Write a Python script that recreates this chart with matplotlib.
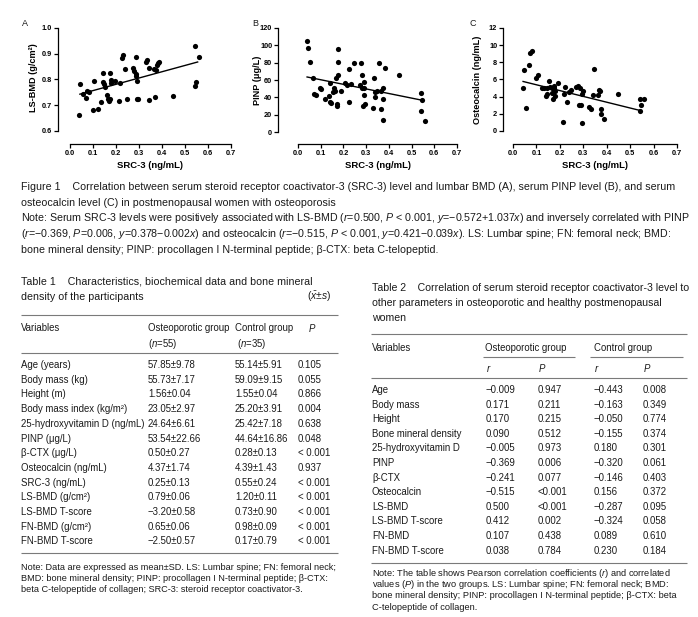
import matplotlib
matplotlib.use("Agg")
import matplotlib.pyplot as plt
from matplotlib.ticker import FormatStrFormatter

plt.rcParams["font.family"] = ["Liberation Sans", "DejaVu Sans"]
plt.rcParams["mathtext.fontset"] = "custom"
plt.rcParams["mathtext.rm"] = "Liberation Sans"
plt.rcParams["mathtext.it"] = "Liberation Sans:italic"
plt.rcParams["mathtext.bf"] = "Liberation Sans:bold"

# ---- scatter data ----
src3_a = [0.043, 0.041, 0.058, 0.070, 0.075, 0.081, 0.104, 0.099, 0.123, 0.135, 0.142, 0.145, 0.146,
          0.154, 0.159, 0.167, 0.171, 0.174, 0.178, 0.177, 0.196, 0.174, 0.213, 0.217, 0.225, 0.232,
          0.239, 0.249, 0.275, 0.280, 0.286, 0.288, 0.287, 0.293, 0.293, 0.297, 0.329, 0.336, 0.343,
          0.343, 0.365, 0.370, 0.377, 0.383, 0.376, 0.389, 0.446, 0.543, 0.546, 0.545, 0.559]
ls_bmd = [0.782, 0.661, 0.743, 0.730, 0.757, 0.753, 0.795, 0.681, 0.684, 0.713, 0.827, 0.792, 0.782,
          0.769, 0.740, 0.723, 0.718, 0.825, 0.799, 0.788, 0.795, 0.726, 0.717, 0.786, 0.884, 0.897,
          0.840, 0.725, 0.844, 0.832, 0.822, 0.886, 0.812, 0.795, 0.725, 0.725, 0.869, 0.877, 0.845,
          0.721, 0.842, 0.732, 0.857, 0.864, 0.835, 0.869, 0.735, 0.931, 0.790, 0.775, 0.887]
fit_a_x = [0.043, 0.555]
fit_a_y = [0.743, 0.868]

src3_b = [0.038, 0.044, 0.051, 0.066, 0.069, 0.078, 0.098, 0.103, 0.120, 0.135, 0.139, 0.142, 0.144,
          0.154, 0.158, 0.164, 0.169, 0.172, 0.172, 0.175, 0.175, 0.175, 0.191, 0.208, 0.216, 0.223,
          0.226, 0.233, 0.248, 0.272, 0.279, 0.282, 0.283, 0.289, 0.292, 0.286, 0.292, 0.296, 0.330,
          0.333, 0.338, 0.339, 0.348, 0.358, 0.365, 0.367, 0.374, 0.376, 0.376, 0.385, 0.446, 0.542,
          0.546, 0.542, 0.558]
pinp = [104.6, 96.5, 80.4, 61.9, 44.2, 43.1, 50.8, 49.2, 38.5, 41.9, 56.9, 34.6, 33.5,
        46.2, 50.8, 46.9, 62.7, 32.3, 30.4, 66.2, 80.4, 95.4, 46.9, 56.5, 54.6, 34.2,
        72.7, 55.4, 80.0, 54.6, 79.6, 50.8, 65.4, 50.8, 57.3, 30.4, 43.1, 32.7, 27.7,
        61.9, 46.5, 40.8, 46.9, 79.2, 46.9, 26.2, 50.4, 38.1, 13.5, 73.8, 65.4, 44.6,
        37.3, 24.2, 13.1]
fit_b_x = [0.040, 0.550]
fit_b_y = [63.5, 36.5]

src3_c = [0.043, 0.047, 0.057, 0.069, 0.074, 0.083, 0.100, 0.106, 0.123, 0.134, 0.140, 0.146, 0.144,
          0.154, 0.160, 0.166, 0.166, 0.171, 0.174, 0.177, 0.179, 0.181, 0.194, 0.214, 0.219, 0.224,
          0.230, 0.239, 0.249, 0.271, 0.277, 0.286, 0.283, 0.291, 0.293, 0.296, 0.299, 0.326, 0.333,
          0.340, 0.346, 0.361, 0.366, 0.371, 0.377, 0.377, 0.389, 0.450, 0.544, 0.547, 0.544, 0.559]
osteocalcin = [4.99, 7.05, 2.67, 7.70, 9.10, 9.29, 6.23, 6.47, 4.96, 4.99, 4.07, 4.26, 5.03,
               5.77, 5.15, 4.96, 4.41, 3.72, 5.30, 4.96, 4.07, 4.65, 5.65, 1.01, 4.26, 5.11,
               3.33, 4.53, 4.72, 5.07, 5.30, 4.96, 3.06, 3.06, 0.97, 4.34, 4.61, 2.79, 2.52,
               4.14, 7.28, 4.18, 4.72, 4.68, 2.59, 1.94, 1.35, 4.30, 3.72, 3.06, 2.36, 3.68]
fit_c_x = [0.043, 0.547]
fit_c_y = [5.77, 2.36]

x_ticks = [0.0, 0.1, 0.2, 0.3, 0.4, 0.5, 0.6, 0.7]
y_ticks_a = [0.6, 0.7, 0.8, 0.9, 1.0]
y_ticks_b = [0, 20, 40, 60, 80, 100, 120]
y_ticks_c = [0, 2, 4, 6, 8, 10, 12]

# ---- captions ----
fig_caption = [
    "Figure 1    Correlation between serum steroid receptor coactivator-3 (SRC-3) level and lumbar BMD (A), serum PINP level (B), and serum",
    "osteocalcin level (C) in postmenopausal women with osteoporosis",
    "Note: Serum SRC-3 levels were positively associated with LS-BMD ($r$=0.500, $P$ < 0.001, $y$=\u22120.572+1.037$x$) and inversely correlated with PINP",
    "($r$=\u22120.369, $P$=0.006, $y$=0.378\u22120.002$x$) and osteocalcin ($r$=\u22120.515, $P$ < 0.001, $y$=0.421\u22120.039$x$). LS: Lumbar spine; FN: femoral neck; BMD:",
    "bone mineral density; PINP: procollagen I N-terminal peptide; \u03b2-CTX: beta C-telopeptid.",
]

# ---- table 1 ----
t1_title = ["Table 1    Characteristics, biochemical data and bone mineral",
            "density of the participants"]
t1_variables = ["Age (years)", "Body mass (kg)", "Height (m)", "Body mass index (kg/m\u00b2)",
                "25-hydroxyvitamin D (ng/mL)", "PINP (\u03bcg/L)", "\u03b2-CTX (\u03bcg/L)",
                "Osteocalcin (ng/mL)", "SRC-3 (ng/mL)", "LS-BMD (g/cm\u00b2)", "LS-BMD T-score",
                "FN-BMD (g/cm\u00b2)", "FN-BMD T-score"]
t1_osteo = ["57.85\u00b19.78", "55.73\u00b17.17", "1.56\u00b10.04", "23.05\u00b12.97", "24.64\u00b16.61",
            "53.54\u00b122.66", "0.50\u00b10.27", "4.37\u00b11.74", "0.25\u00b10.13", "0.79\u00b10.06",
            "\u22123.20\u00b10.58", "0.65\u00b10.06", "\u22122.50\u00b10.57"]
t1_control = ["55.14\u00b15.91", "59.09\u00b19.15", "1.55\u00b10.04", "25.20\u00b13.91", "25.42\u00b17.18",
              "44.64\u00b116.86", "0.28\u00b10.13", "4.39\u00b11.43", "0.55\u00b10.24", "1.20\u00b10.11",
              "0.73\u00b10.90", "0.98\u00b10.09", "0.17\u00b10.79"]
t1_p = ["0.105", "0.055", "0.866", "0.004", "0.638", "0.048", "< 0.001", "0.937", "< 0.001",
        "< 0.001", "< 0.001", "< 0.001", "< 0.001"]
t1_note = ["Note: Data are expressed as mean\u00b1SD. LS: Lumbar spine; FN: femoral neck;",
           "BMD: bone mineral density; PINP: procollagen I N-terminal peptide; \u03b2-CTX:",
           "beta C-telopeptide of collagen; SRC-3: steroid receptor coactivator-3."]

# ---- table 2 ----
t2_title = ["Table 2    Correlation of serum steroid receptor coactivator-3 level to",
            "other parameters in osteoporotic and healthy postmenopausal",
            "women"]
t2_variables = ["Age", "Body mass", "Height", "Bone mineral density", "25-hydroxyvitamin D", "PINP",
                "\u03b2-CTX", "Osteocalcin", "LS-BMD", "LS-BMD T-score", "FN-BMD", "FN-BMD T-score"]
t2_osteo_r = ["\u22120.009", "0.171", "0.170", "0.090", "\u22120.005", "\u22120.369", "\u22120.241",
              "\u22120.515", "0.500", "0.412", "0.107", "0.038"]
t2_osteo_p = ["0.947", "0.211", "0.215", "0.512", "0.973", "0.006", "0.077", "<0.001", "<0.001",
              "0.002", "0.438", "0.784"]
t2_control_r = ["\u22120.443", "\u22120.163", "\u22120.050", "\u22120.155", "0.180", "\u22120.320",
                "\u22120.146", "0.156", "\u22120.287", "\u22120.324", "0.089", "0.230"]
t2_control_p = ["0.008", "0.349", "0.774", "0.374", "0.301", "0.061", "0.403", "0.372", "0.095",
                "0.058", "0.610", "0.184"]
t2_note = ["Note: The table shows Pearson correlation coefficients ($r$) and correlated",
           "values ($P$) in the two groups. LS: Lumbar spine; FN: femoral neck; BMD:",
           "bone mineral density; PINP: procollagen I N-terminal peptide; \u03b2-CTX: beta",
           "C-telopeptide of collagen."]

W, H = 698, 617
TEXT = "#1a1a1a"
RULE = "#7a7a7a"
fig = plt.figure(figsize=(W / 100, H / 100), dpi=100)

# page-sized axes in pixel units for captions and tables
bg = fig.add_axes([0, 0, 1, 1])
bg.set_xlim(0, W)
bg.set_ylim(H, 0)
bg.axis("off")


def put(x, y, s, size=6.9, **kw):
    bg.text(x, y, s, fontsize=size, color=TEXT, va="center", ha=kw.pop("ha", "left"), **kw)


def rule(x0, x1, y, lw=0.8):
    bg.plot([x0, x1], [y, y], color=RULE, lw=lw, solid_capstyle="butt")


def panel(box, xs, ys, fx, fy, xlim, ylim, yticks, yfmt):
    left, top, right, bottom = box
    ax = fig.add_axes([left / W, 1 - bottom / H, (right - left) / W, (bottom - top) / H])
    ax.scatter(xs, ys, s=14, color="black", linewidths=0, zorder=3, clip_on=False)
    ax.plot(fx, fy, color="black", lw=1.0)
    ax.set_xlim(*xlim)
    ax.set_ylim(*ylim)
    ax.set_xticks(x_ticks)
    ax.set_yticks(yticks)
    ax.xaxis.set_major_formatter(FormatStrFormatter("%.1f"))
    ax.yaxis.set_major_formatter(FormatStrFormatter(yfmt))
    for side in ("top", "right"):
        ax.spines[side].set_visible(False)
    ax.spines["left"].set_bounds(yticks[0], yticks[-1])
    ax.spines["bottom"].set_bounds(x_ticks[0], x_ticks[-1])
    for side in ("left", "bottom"):
        ax.spines[side].set_linewidth(0.9)
    ax.tick_params(direction="out", length=3, width=0.9, labelsize=5.3, pad=1.2, colors="black")
    for lab in ax.get_xticklabels() + ax.get_yticklabels():
        lab.set_fontweight("bold")
    ax.patch.set_alpha(0)
    return ax


panel((58, 28, 231, 144), src3_a, ls_bmd, fit_a_x, fit_a_y, (-0.0522, 0.7), (0.5495, 1.0), y_ticks_a, "%.1f")
panel((278, 28, 457, 144), src3_b, pinp, fit_b_x, fit_b_y, (-0.088, 0.7), (-13.8, 120), y_ticks_b, "%d")
panel((503, 28, 677, 144), src3_c, osteocalcin, fit_c_x, fit_c_y, (-0.0427, 0.7), (-1.515, 12), y_ticks_c, "%d")

for x, y, s in [(22, 24, "A"), (252, 24, "B"), (469, 23, "C")]:
    put(x, y, s, size=6.5)
for x, y, s in [(33, 78, "LS-BMD (g/cm\u00b2)"), (258, 80, "PINP (\u03bcg/L)"), (478, 80, "Osteocalcin (ng/mL)")]:
    bg.text(x, y, s, fontsize=6.6, fontweight="bold", rotation=90, ha="center", va="center")
for x in (150, 378, 595):
    bg.text(x, 165, "SRC-3 (ng/mL)", fontsize=6.8, fontweight="bold", ha="center", va="center")

# figure caption
for i, line in enumerate(fig_caption):
    put(21, 187 + 15.7 * i, line, size=7.7)

# table 1
put(21, 281, t1_title[0], size=7.7)
put(21, 297, t1_title[1], size=7.7)
put(331, 297, "($\\bar{x}$\u00b1$s$)", size=7.4, ha="right")
rule(21, 338, 315)
put(21, 328, "Variables")
put(148, 328, "Osteoporotic group")
put(235, 328, "Control group")
put(308, 328, "$P$")
put(148, 344, "($n$=55)")
put(237, 344, "($n$=35)")
rule(21, 338, 353)
for i in range(len(t1_variables)):
    y = 365 + 14.7 * i
    put(21, y, t1_variables[i])
    put(148, y, t1_osteo[i])
    put(235, y, t1_control[i])
    put(298, y, t1_p[i])
rule(21, 338, 553)
for i, line in enumerate(t1_note):
    put(21, 567 + 11.5 * i, line, size=6.6)

# table 2
for i, line in enumerate(t2_title):
    put(372, 288 + 15 * i, line, size=7.6)
rule(371, 687, 334)
put(372, 348, "Variables")
put(485, 348, "Osteoporotic group")
put(594, 348, "Control group")
rule(483, 575, 357)
rule(590, 683, 357)
for x, s in [(486, "$r$"), (538, "$P$"), (594, "$r$"), (643, "$P$")]:
    put(x, 368, s)
rule(371, 687, 378)
for i in range(len(t2_variables)):
    y = 390 + 14.6 * i
    put(372, y, t2_variables[i])
    put(486, y, t2_osteo_r[i])
    put(538, y, t2_osteo_p[i])
    put(594, y, t2_control_r[i])
    put(643, y, t2_control_p[i])
rule(371, 687, 563)
for i, line in enumerate(t2_note):
    put(372, 573 + 11.5 * i, line, size=6.7)

fig.savefig("out.png", dpi=100)
